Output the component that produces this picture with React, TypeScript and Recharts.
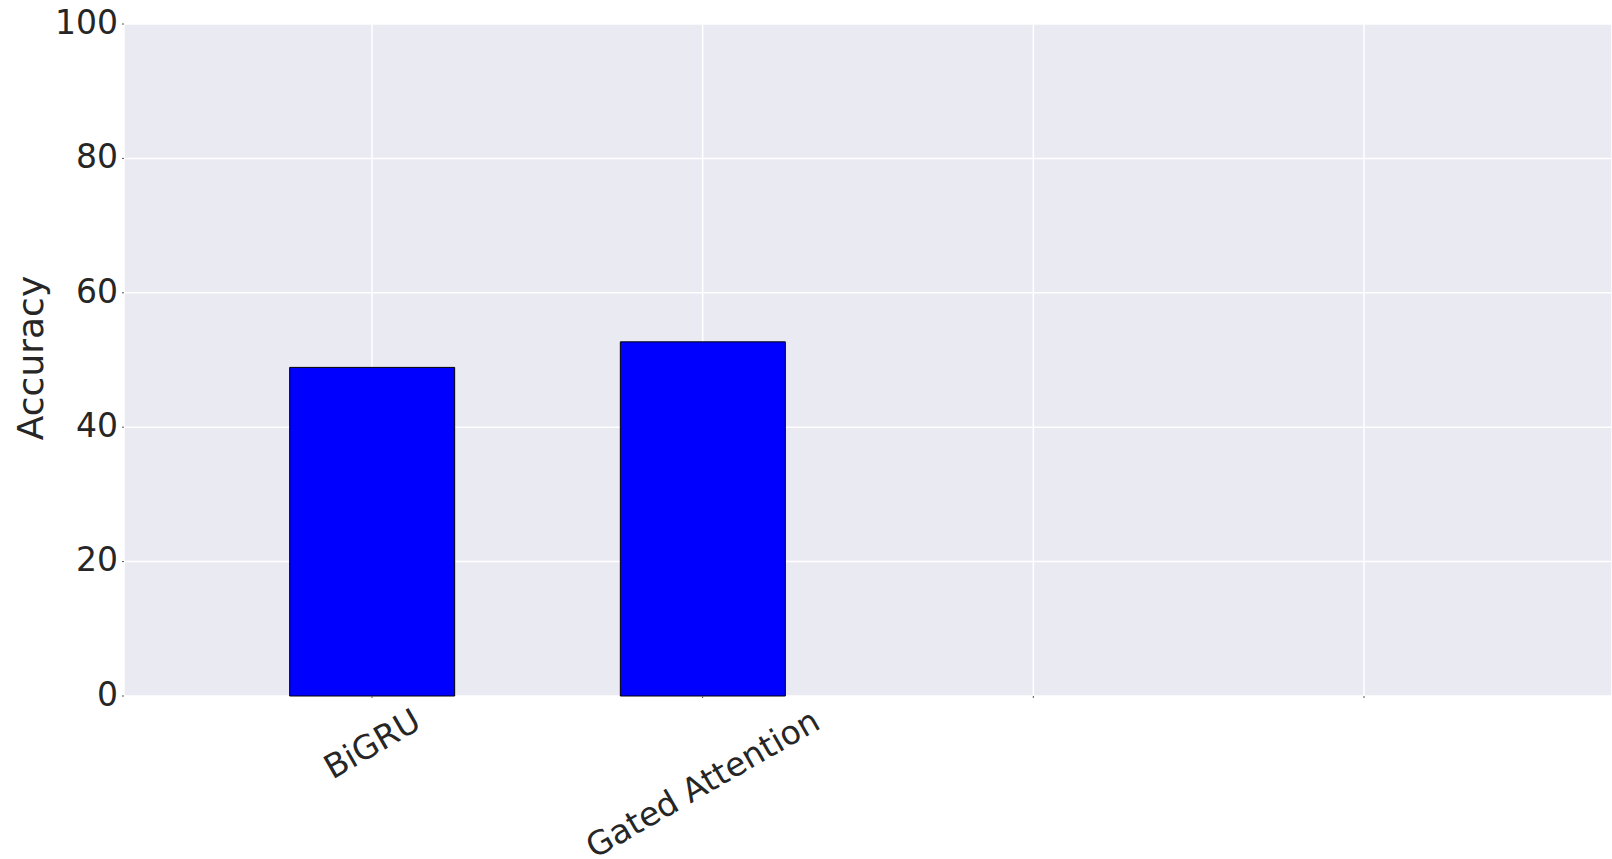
import React from "react";
import { BarChart, Bar, XAxis, YAxis, CartesianGrid, Label } from "recharts";

const modelNames = ["BiGRU", "Gated Attention"];
const accuracyValues = [48.9, 52.7];
const xTickPositions = [0, 1, 2, 3];
const xTickLabels = ["BiGRU", "Gated Attention", "", ""];
const yTicks = [0, 20, 40, 60, 80, 100];

const data = modelNames.map((name, i) => ({ idx: i, name, accuracy: accuracyValues[i] }));

const FONT = "'DejaVu Sans', 'Liberation Sans', sans-serif";
const TEXT = "#262626";
const TICK_FS = 33;

let measureCtx: CanvasRenderingContext2D | null = null;
function measure(text: string, size: number): number {
  if (!measureCtx) {
    const c = document.createElement("canvas");
    measureCtx = c.getContext("2d");
  }
  if (!measureCtx) return text.length * size * 0.6;
  measureCtx.font = `${size}px 'DejaVu Sans'`;
  return measureCtx.measureText(text).width;
}

const XTick = (props: any) => {
  const { x, y, payload } = props;
  const label = xTickLabels[xTickPositions.indexOf(payload.value)] ?? "";
  if (!label) return null;
  const w = measure(label, TICK_FS);
  const h = TICK_FS * 0.74;
  const a = (30 * Math.PI) / 180;
  const bboxH = w * Math.sin(a) + h * Math.cos(a);
  const cy = y + bboxH / 2;
  return (
    <text
      x={x}
      y={cy}
      textAnchor="middle"
      dominantBaseline="central"
      transform={`rotate(-30, ${x}, ${cy})`}
      fontSize={TICK_FS}
      fontFamily={FONT}
      fill={TEXT}
    >
      {label}
    </text>
  );
};

const YTick = (props: any) => {
  const { x, y, payload } = props;
  return (
    <text
      x={x}
      y={y - 2}
      dy="0.355em"
      textAnchor="end"
      fontSize={TICK_FS}
      fontFamily={FONT}
      fill={TEXT}
    >
      {payload.value}
    </text>
  );
};

const YLabel = (props: any) => {
  const vb = props.viewBox || { x: 0, y: 24, width: 124, height: 672 };
  const cx = vb.x + 30;
  const cy = vb.y + vb.height / 2 - 2;
  return (
    <text
      x={cx}
      y={cy}
      textAnchor="middle"
      dominantBaseline="central"
      transform={`rotate(-90, ${cx}, ${cy})`}
      fontSize={36}
      fontFamily={FONT}
      fill={TEXT}
    >
      Accuracy
    </text>
  );
};

export default function App() {
  return (
    <div style={{ position: "absolute", left: 0, top: 0, width: 1612, height: 859, background: "#fff" }}>
      <BarChart
        width={1612}
        height={859}
        data={data}
        margin={{ top: 24, right: 0, bottom: 0, left: 0 }}
      >
        <CartesianGrid
          fill="#EAEAF2"
          fillOpacity={1}
          stroke="#FFFFFF"
          strokeWidth={1.5}
          verticalPoints={undefined}
        />
        <XAxis
          dataKey="idx"
          type="number"
          domain={[-0.75, 3.75]}
          ticks={xTickPositions}
          interval={0}
          height={163}
          axisLine={false}
          tickLine={{ stroke: "#555", strokeWidth: 1 }}
          tickSize={2}
          tickMargin={9}
          tick={<XTick />}
        />
        <YAxis
          type="number"
          domain={[0, 100]}
          ticks={yTicks}
          width={124}
          axisLine={false}
          tickLine={{ stroke: "#555", strokeWidth: 1 }}
          tickSize={2}
          tickMargin={4}
          tick={<YTick />}
        >
          <Label content={<YLabel />} />
        </YAxis>
        <Bar
          dataKey="accuracy"
          fill="#0000FF"
          stroke="#000000"
          strokeWidth={1}
          barSize={165}
          isAnimationActive={false}
        />
      </BarChart>
    </div>
  );
}
